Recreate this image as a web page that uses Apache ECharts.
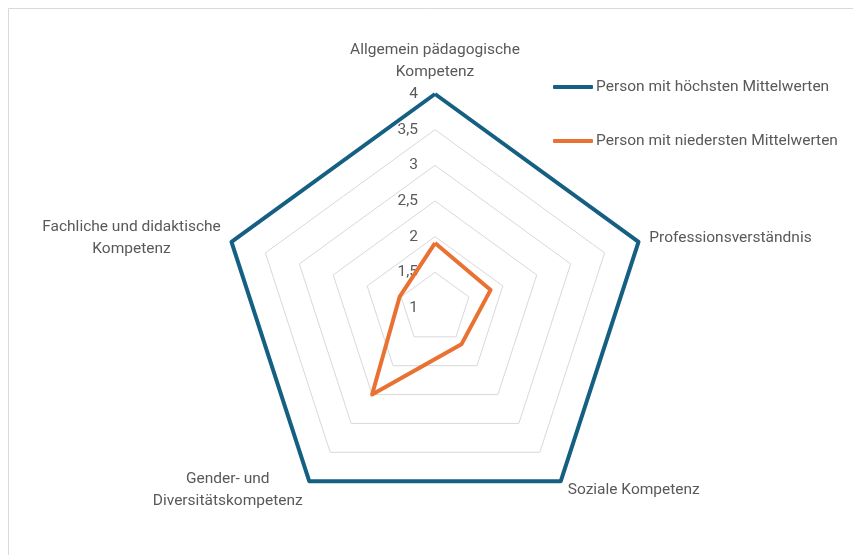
<!DOCTYPE html>
<html>
<head>
<meta charset="utf-8">
<script src="https://cdn.jsdelivr.net/npm/echarts@6/dist/echarts.min.js"></script>
<style>
html,body{margin:0;padding:0;background:#fff;}
#chart{width:853px;height:555px;}
</style>
</head>
<body>
<div id="chart"></div>
<script>
// Indicators in ECharts drawing order (counter-clockwise from top)
const categories = [
  "Allgemein pädagogische\nKompetenz",
  "Fachliche und didaktische\nKompetenz",
  "Gender- und\nDiversitätskompetenz",
  "Soziale Kompetenz",
  "Professionsverständnis"
];
const seriesNames = ["Person mit höchsten Mittelwerten", "Person mit niedersten Mittelwerten"];
const highValues = [4, 4, 4, 4, 4];
const lowValues = [1.91, 1.52, 2.5, 1.63, 1.82];
const axisMin = 1;
const axisMax = 4;
const axisStep = 0.5;

const FONT = "Roboto";
const TEXT_COLOR = "#595959";
const FONT_SIZE = 15.5;

const ctx = document.createElement("canvas").getContext("2d");
ctx.font = FONT_SIZE + "px " + FONT;
function lineWidth(s){ return Math.ceil(ctx.measureText(s).width); }

const chart = echarts.init(document.getElementById("chart"));
const option = {
  backgroundColor: "#ffffff",
  animation: false,
  textStyle: { fontFamily: FONT },
  graphic: [{
    type: "rect",
    shape: { x: 8.5, y: 8.5, width: 1000, height: 1000 },
    style: { fill: "none", stroke: "#d9d9d9", lineWidth: 1 },
    silent: true
  }],
  legend: {
    orient: "vertical",
    left: 553,
    top: 78,
    padding: 0,
    itemWidth: 40,
    itemHeight: 4,
    itemGap: 36,
    icon: "roundRect",
    textStyle: { color: TEXT_COLOR, fontSize: FONT_SIZE, fontFamily: FONT, padding: [0,0,0,-2], lineHeight: 18 },
    data: seriesNames.map((n, i) => ({ name: n, itemStyle: { color: i === 0 ? "#156082" : "#E97132" } }))
  },
  radar: {
    center: [435, 308],
    radius: 214,
    startAngle: 90,
    splitNumber: Math.round((axisMax - axisMin) / axisStep),
    shape: "polygon",
    nameGap: 11,
    axisName: {
      color: TEXT_COLOR,
      fontSize: FONT_SIZE,
      fontFamily: FONT,
      formatter: function (name) {
        const lines = name.split("\n");
        const w = Math.max.apply(null, lines.map(lineWidth));
        return lines.map(l => "{c" + w + "|" + l + "}").join("\n");
      },
      rich: (function () {
        const r = {};
        categories.forEach(n => {
          const w = Math.max.apply(null, n.split("\n").map(lineWidth));
          r["c" + w] = { width: w, align: "center", color: TEXT_COLOR, fontSize: FONT_SIZE, fontFamily: FONT, lineHeight: 22 };
        });
        return r;
      })()
    },
    indicator: categories.map(n => ({ name: n, min: axisMin, max: axisMax })),
    axisLine: { show: false },
    axisTick: { show: false },
    axisLabel: { show: false },
    splitArea: { show: false },
    splitLine: { lineStyle: { color: "#d9d9d9", width: 1 } }
  },
  grid: { left: 435, top: 94, width: 1, height: 214 },
  xAxis: { type: "value", show: false },
  yAxis: {
    type: "value",
    min: axisMin,
    max: axisMax,
    interval: axisStep,
    axisLine: { show: false },
    axisTick: { show: false },
    splitLine: { show: false },
    axisLabel: {
      color: TEXT_COLOR,
      fontSize: FONT_SIZE,
      fontFamily: FONT,
      margin: 17,
      formatter: v => String(v).replace(".", ",")
    }
  },
  series: [{
    type: "radar",
    symbol: "none",
    data: [
      { name: seriesNames[0], value: highValues, lineStyle: { color: "#156082", width: 4 }, itemStyle: { color: "#156082" } },
      { name: seriesNames[1], value: lowValues, lineStyle: { color: "#E97132", width: 4 }, itemStyle: { color: "#E97132" } }
    ]
  }]
};
chart.setOption(option);
</script>
</body>
</html>
